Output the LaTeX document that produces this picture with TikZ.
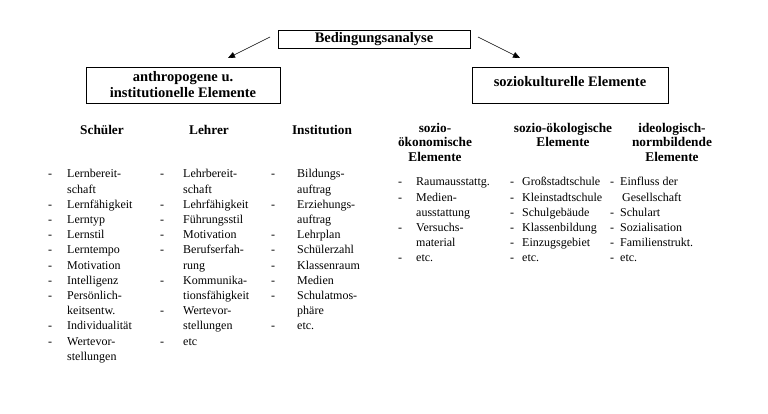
\documentclass[tikz,border=0pt]{standalone}
\usepackage{fontspec}
\setmainfont{Liberation Serif}
\usetikzlibrary{arrows.meta}
\begin{document}
\begin{tikzpicture}[x=1pt,y=-1pt,
  box/.style={draw,line width=1pt,inner sep=0pt},
  head/.style={font=\bfseries\fontsize{13.3}{14.5}\selectfont,align=center,inner sep=0pt},
  lst/.style={anchor=north west,inner sep=0pt,font=\fontsize{12}{15.2}\selectfont},
  arr/.style={-{Triangle[length=7pt,width=6pt]},line width=0.6pt}]
\useasboundingbox (0,0) rectangle (768,413);
\node[box,minimum width=192pt,minimum height=18pt,font=\bfseries\fontsize{14.5}{15}\selectfont] (top) at (374,39) {Bedingungsanalyse};
\node[box,minimum width=194pt,minimum height=36pt,align=center,font=\bfseries\fontsize{14.5}{16}\selectfont] (left) at (183,85) {anthropogene u.\\institutionelle Elemente};
\node[box,minimum width=196pt,minimum height=36pt,font=\bfseries\fontsize{14.5}{16}\selectfont] (right) at (570,85) {\raisebox{7pt}{soziokulturelle Elemente}};
\coordinate (a1) at (270,37); \coordinate (a2) at (228,58);
\coordinate (b1) at (478,37); \coordinate (b2) at (520,58);
\draw[arr] (a1) -- (a2);
\draw[arr] (b1) -- (b2);
\node[head] (h1) at (102,130) {Schüler};
\node[head] (h2) at (209,130) {Lehrer};
\node[head] (h3) at (322,130) {Institution};
\node[head,anchor=north] (h4) at (435,123) {sozio-\\ökonomische\\Elemente};
\node[head,anchor=north] (h5) at (563,123) {sozio-ökologische\\Elemente};
\node[head,anchor=north] (h6) at (672,123) {ideologisch-\\normbildende\\Elemente};
\node[lst] (l1) at (48,167) {\begin{tabular}{@{}p{19pt}@{}l@{}}
- & Lernbereit-\\ & schaft\\ - & Lernfähigkeit\\ - & Lerntyp\\ - & Lernstil\\ - & Lerntempo\\ - & Motivation\\ - & Intelligenz\\ - & Persönlich-\\ & keitsentw.\\ - & Individualität\\ - & Wertevor-\\ & stellungen\end{tabular}};
\node[lst] (l2) at (160,167) {\begin{tabular}{@{}p{23pt}@{}l@{}}
- & Lehrbereit-\\ & schaft\\ - & Lehrfähigkeit\\ - & Führungsstil\\ - & Motivation\\ - & Berufserfah-\\ & rung\\ - & Kommunika-\\ & tionsfähigkeit\\ - & Wertevor-\\ & stellungen\\ - & etc\end{tabular}};
\node[lst] (l3) at (271,167) {\begin{tabular}{@{}p{26pt}@{}l@{}}
- & Bildungs-\\ & auftrag\\ - & Erziehungs-\\ & auftrag\\ - & Lehrplan\\ - & Schülerzahl\\ - & Klassenraum\\ - & Medien\\ - & Schulatmos-\\ & phäre\\ - & etc.\end{tabular}};
\node[lst] (l4) at (398,175) {\begin{tabular}{@{}p{18pt}@{}l@{}}
- & Raumausstattg.\\ - & Medien-\\ & ausstattung\\ - & Versuchs-\\ & material\\ - & etc.\end{tabular}};
\node[lst] (l5) at (510,175) {\begin{tabular}{@{}p{12pt}@{}l@{}}
- & Großstadtschule\\ - & Kleinstadtschule\\ - & Schulgebäude\\ - & Klassenbildung\\ - & Einzugsgebiet\\ - & etc.\end{tabular}};
\node[lst] (l6) at (610,175) {\begin{tabular}{@{}p{10pt}@{}l@{}}
- & Einfluss der\\ & \,Gesellschaft\\ - & Schulart\\ - & Sozialisation\\ - & Familienstrukt.\\ - & etc.\end{tabular}};
\end{tikzpicture}
\end{document}
